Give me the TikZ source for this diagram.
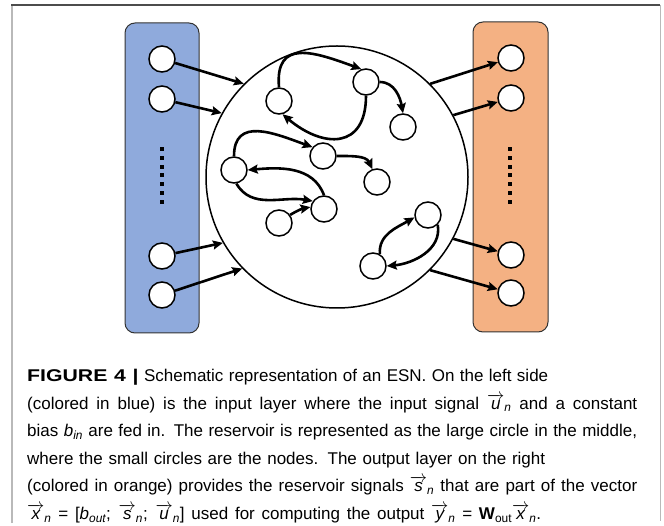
\documentclass[tikz,border=0pt]{standalone}
\usepackage{amsmath}
\usepackage{fontspec}
\setmainfont{Liberation Sans}
\newfontfamily\figlabelfont[FakeStretch=1.25]{Liberation Sans}
\usepackage{tikz}
\usetikzlibrary{arrows.meta}
\definecolor{esn_blue}{RGB}{143,170,220}
\definecolor{esn_orange}{RGB}{244,177,131}
\definecolor{esn_frame}{RGB}{185,185,185}
\newcommand{\vsym}[1]{$\overrightarrow{\textit{#1}}_{\textit{n}}$}
\newcommand{\spreadline}[2]{\makebox[#1][s]{#2}}

\begin{document}
\begin{tikzpicture}[x=1pt, y=1pt,
    unit/.style={circle, draw, line width=1.5pt, fill=white, minimum size=26pt, inner sep=0pt},
    link/.style={line width=2.6pt, -{Stealth[length=10pt, width=9pt, inset=1.5pt]}},
    capline/.style={anchor=base west, inner sep=0pt, font=\fontsize{17}{27.6}\selectfont}]
  \useasboundingbox (0,0) rectangle (664,525);

  % page frame
  \draw[esn_frame, line width=2pt] (12,2) -- (12,520);
  \draw[black!70, line width=1.5pt] (11,520) -- (660,520);
  \draw[esn_frame, line width=1pt] (660,520) -- (660,4);

  % input and output layers
  \draw[fill=esn_blue, draw=black!80, line width=1pt, rounded corners=10pt]
    (125,192) rectangle (199,502);
  \draw[fill=esn_orange, draw=black!80, line width=1pt, rounded corners=10pt]
    (473,193) rectangle (548,503);
  \foreach \n/\y in {1/466, 2/426, 3/269, 4/230}
    \node[unit] (in\n) at (162,\y) {};
  \foreach \n/\y in {1/467, 2/427, 3/270, 4/232}
    \node[unit] (out\n) at (511,\y) {};
  \foreach \k in {0,...,6} {
    \fill (160,{374-\k*8.8}) rectangle ++(4,4);
    \fill (508,{374-\k*8.8}) rectangle ++(4,4);
  }

  % reservoir
  \node[circle, draw, line width=1.5pt, minimum size=262pt, inner sep=0pt] (res) at (337,348) {};
  \node[unit] (na) at (279,424) {};
  \node[unit] (nb) at (366,443) {};
  \node[unit] (nc) at (403,398) {};
  \node[unit] (nd) at (234,355) {};
  \node[unit] (ne) at (323,369) {};
  \node[unit] (nf) at (377,343) {};
  \node[unit] (ng) at (324,316) {};
  \node[unit] (nh) at (279,302) {};
  \node[unit] (ni) at (428,310) {};
  \node[unit] (nj) at (373,259) {};

  % connections
  \draw[link] (in1) -- (res.135);
  \draw[link] (in2) -- (res.151);
  \draw[link] (in3) -- (res.210);
  \draw[link] (in4) -- (res.224);
  \draw[link] (res.45) -- (out1);
  \draw[link] (res.28) -- (out2);
  \draw[link] (res.-28) -- (out3);
  \draw[link] (res.-45) -- (out4);

  \draw[link] (na.north) to[out=95, in=160, looseness=1.5] (nb.110);
  \draw[link] (nb.south) to[out=-90, in=-40, looseness=1.6] (na.-75);
  \draw[link] (nb.east) to[out=0, in=100] (nc.north);
  \draw[link] (nd.north) to[out=90, in=160, looseness=1.3] (ne.140);
  \draw[link] (ng.north) to[out=110, in=5] (nd.east);
  \draw[link] (nd.-80) to[out=-60, in=170] (ng.145);
  \draw[link] (ne.east) to[out=0, in=115] (nf.110);
  \draw[link] (nh.36) to[bend left=10] (ng.172);
  \draw[link] (nj.60) to[out=95, in=210] (ni.190);
  \draw[link] (ni.-45) to[out=-80, in=5] (nj.east);

  % caption
  \node[capline] (cap1) at (27,143.5) {\spreadline{521pt}{{\figlabelfont\bfseries FIGURE 4 |} Schematic representation of an ESN. On the left side}};
  \node[capline] (cap2) at (27,115.9) {\spreadline{610pt}{(colored in blue) is the input layer where the input signal \vsym{u} and a constant}};
  \node[capline] (cap3) at (27,88.3) {\spreadline{610pt}{bias \textit{b}$_{\textit{in}}$ are fed in. The reservoir is represented as the large circle in the middle,}};
  \node[capline] (cap4) at (27,60.7) {\spreadline{518pt}{where the small circles are the nodes. The output layer on the right}};
  \node[capline] (cap5) at (27,33.1) {\spreadline{610pt}{(colored in orange) provides the reservoir signals \vsym{s} that are part of the vector}};
  \node[capline] (cap6) at (27,5.5) {\spreadline{514pt}{\vsym{x} = [\textit{b}$_{\textit{out}}$; \vsym{s}; \vsym{u}] used for computing the output \vsym{y} = \textbf{W}$_{\text{out}}$\vsym{x}.}};
\end{tikzpicture}
\end{document}
